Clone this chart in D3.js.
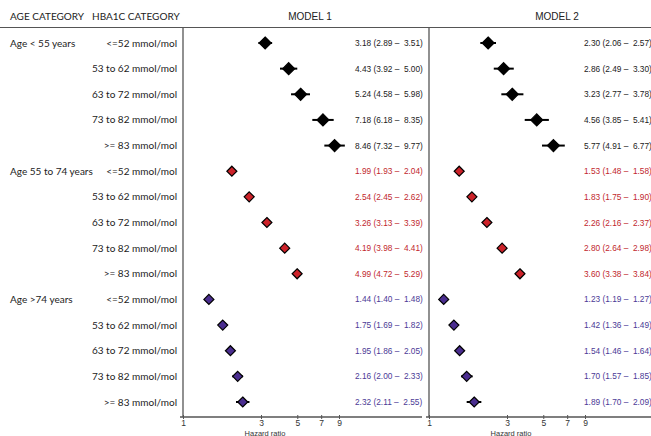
<!DOCTYPE html>
<html>
<head>
<meta charset="utf-8">
<script src="https://cdn.jsdelivr.net/npm/d3@7"></script>
<style>
  body { margin: 0; background: #fff; }
  svg { display: block; }
  text { white-space: pre; }
</style>
</head>
<body>
<div id="chart"></div>
<script>
// age groups and hba1c bands
const ageGroups = ["Age < 55 years", "Age 55 to 74 years", "Age >74 years"];
const hbaBands = ["<=52 mmol/mol", "53 to 62 mmol/mol", "63 to 72 mmol/mol", "73 to 82 mmol/mol", ">= 83 mmol/mol"];

// model 1 hazard ratios (by age group, then band)
const m1Hr = [3.18, 4.43, 5.24, 7.18, 8.46, 1.99, 2.54, 3.26, 4.19, 4.99, 1.44, 1.75, 1.95, 2.16, 2.32];
const m1Lo = [2.89, 3.92, 4.58, 6.18, 7.32, 1.93, 2.45, 3.13, 3.98, 4.72, 1.40, 1.69, 1.86, 2.00, 2.11];
const m1Hi = [3.51, 5.00, 5.98, 8.35, 9.77, 2.04, 2.62, 3.39, 4.41, 5.29, 1.48, 1.82, 2.05, 2.33, 2.55];

// model 2
const m2Hr = [2.30, 2.86, 3.23, 4.56, 5.77, 1.53, 1.83, 2.26, 2.80, 3.60, 1.23, 1.42, 1.54, 1.70, 1.89];
const m2Lo = [2.06, 2.49, 2.77, 3.85, 4.91, 1.48, 1.75, 2.16, 2.64, 3.38, 1.19, 1.36, 1.46, 1.57, 1.70];
const m2Hi = [2.57, 3.30, 3.78, 5.41, 6.77, 1.58, 1.90, 2.37, 2.98, 3.84, 1.27, 1.49, 1.64, 1.85, 2.09];

const tickVals = [1, 3, 5, 7, 9];

const W = 651, H = 436;
const groupFill = ["#000000", "#cc2229", "#4a2d8f"];
const groupText = ["#222222", "#c1272d", "#4b3a96"];

// flat row list
const rows = [];
ageGroups.forEach((g, gi) => {
    hbaBands.forEach((b, bi) => {
        rows.push({ group: gi, age: bi === 0 ? g : "", band: b, idx: gi * 5 + bi });
    });
});

const svg = d3.select("#chart").append("svg")
    .attr("width", W)
    .attr("height", H);

const y = d3.scalePoint()
    .domain(rows.map(d => d.idx))
    .range([43, 402]);

const labelFont = "Lato, 'Open Sans', sans-serif";
const numFont = "'Liberation Sans', Arial, sans-serif";

//headers
svg.append("line")
    .attr("x1", 0).attr("x2", W)
    .attr("y1", 27.5).attr("y2", 27.5)
    .attr("stroke", "#555").attr("stroke-width", 1);

svg.append("text").attr("x", 10).attr("y", 20)
    .attr("font-family", labelFont).attr("font-size", 10).attr("fill", "#222")
    .text("AGE CATEGORY");
svg.append("text").attr("x", 92).attr("y", 20)
    .attr("font-family", labelFont).attr("font-size", 10).attr("fill", "#222")
    .text("HBA1C CATEGORY");

//row labels
svg.append("g").selectAll("text.age")
    .data(rows.filter(d => d.age))
    .enter().append("text")
    .attr("x", 10)
    .attr("y", d => y(d.idx) + 3.5)
    .attr("font-family", labelFont).attr("font-size", 10).attr("fill", "#222")
    .text(d => d.age);

svg.append("g").selectAll("text.band")
    .data(rows)
    .enter().append("text")
    .attr("x", 177)
    .attr("y", d => y(d.idx) + 3.5)
    .attr("text-anchor", "end")
    .attr("font-family", labelFont).attr("font-size", 10).attr("fill", "#222")
    .text(d => d.band);

const panels = [
    { title: "MODEL 1", x0: 183, hr: m1Hr, lo: m1Lo, hi: m1Hi, axisStart: 180, axisEnd: 422, textX: 355, titleX: 310 },
    { title: "MODEL 2", x0: 429, hr: m2Hr, lo: m2Lo, hi: m2Hi, axisStart: 426, axisEnd: 651, textX: 584, titleX: 557 }
];

const axisY = 417;

panels.forEach(p => {
    const x = d3.scaleLog()
        .domain([1, 9])
        .range([p.x0, p.x0 + 71 * Math.log(9)]);

    const g = svg.append("g");

    g.append("text")
        .attr("x", p.titleX).attr("y", 20)
        .attr("text-anchor", "middle")
        .attr("font-family", numFont).attr("font-size", 10).attr("fill", "#222")
        .text(p.title);

    //vertical reference line at HR = 1
    g.append("line")
        .attr("x1", x(1)).attr("x2", x(1))
        .attr("y1", 28).attr("y2", axisY)
        .attr("stroke", "#555").attr("stroke-width", 1.3);

    //x axis
    const ax = g.append("g")
        .attr("transform", "translate(0," + axisY + ")")
        .call(d3.axisBottom(x).tickValues(tickVals).tickFormat(d3.format("d")).tickSize(3));
    ax.select(".domain").remove();
    ax.append("line")
        .attr("x1", p.axisStart).attr("x2", p.axisEnd)
        .attr("stroke", "#555").attr("stroke-width", 1.3);
    ax.selectAll(".tick line").attr("y1", -2).attr("y2", 2).attr("stroke", "#555");
    ax.selectAll(".tick text")
        .attr("y", 3)
        .attr("font-family", numFont).attr("font-size", 8.5).attr("fill", "#333");

    g.append("text")
        .attr("x", (x(1) + x(9)) / 2 + 4).attr("y", 435.5)
        .attr("text-anchor", "middle")
        .attr("font-family", numFont).attr("font-size", 7.5).attr("fill", "#333")
        .text("Hazard ratio");

    //CI lines
    g.selectAll(".ci")
        .data(rows)
        .enter().append("line")
        .attr("x1", d => x(p.lo[d.idx]))
        .attr("x2", d => x(p.hi[d.idx]))
        .attr("y1", d => y(d.idx))
        .attr("y2", d => y(d.idx))
        .attr("stroke", "#000")
        .attr("stroke-width", 2);

    //diamonds
    g.selectAll(".pt")
        .data(rows)
        .enter().append("path")
        .attr("transform", d => "translate(" + x(p.hr[d.idx]) + "," + y(d.idx) + ")")
        .attr("d", d => {
            const r = d.group === 0 ? 6 : 5;
            return "M0," + (-r) + "L" + r + ",0L0," + r + "L" + (-r) + ",0Z";
        })
        .attr("fill", d => groupFill[d.group])
        .attr("stroke", "#000")
        .attr("stroke-width", 1.2);

    //estimate text
    g.selectAll(".est")
        .data(rows)
        .enter().append("text")
        .attr("x", p.textX)
        .attr("y", d => y(d.idx) + 3)
        .attr("font-family", numFont).attr("font-size", 8.3)
        .attr("fill", d => groupText[d.group])
        .text(d => p.hr[d.idx].toFixed(2) + " (" + p.lo[d.idx].toFixed(2) + " \u2013  " + p.hi[d.idx].toFixed(2) + ")");
});
</script>
</body>
</html>
